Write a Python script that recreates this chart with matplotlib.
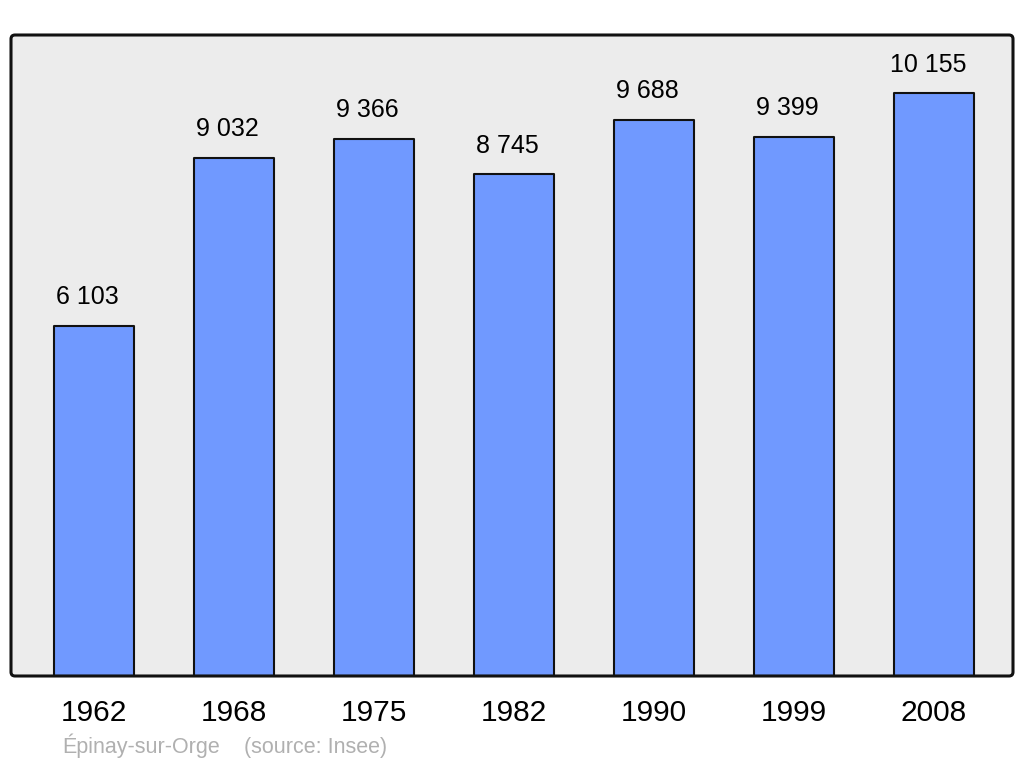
import matplotlib
matplotlib.use("Agg")
import matplotlib.pyplot as plt
from matplotlib.patches import FancyBboxPatch

years = ["1962", "1968", "1975", "1982", "1990", "1999", "2008"]
population = [6103, 9032, 9366, 8745, 9688, 9399, 10155]
value_labels = ["6 103", "9 032", "9 366", "8 745", "9 688", "9 399", "10 155"]
commune = "Épinay-sur-Orge"
source = "(source: Insee)"

plt.rcParams['font.family'] = ['Liberation Sans', 'DejaVu Sans']

W, H = 1024, 765
fig = plt.figure(figsize=(W / 100, H / 100), dpi=100)
fig.patch.set_facecolor("white")
ax = fig.add_axes([11 / W, (H - 676) / H, 1002 / W, 641 / H])
ax.patch.set_visible(False)
for s in ax.spines.values():
    s.set_visible(False)

aspect = (1002 / 641)
bg = FancyBboxPatch((0, 0), 1, 1, boxstyle="round,pad=0,rounding_size=0.004",
                    mutation_aspect=aspect, transform=ax.transAxes,
                    facecolor="#ececec", edgecolor="none", zorder=0, clip_on=False)
ax.add_patch(bg)
frame = FancyBboxPatch((0, 0), 1, 1, boxstyle="round,pad=0,rounding_size=0.004",
                       mutation_aspect=aspect, transform=ax.transAxes,
                       facecolor="none", edgecolor="#111111", linewidth=2.2,
                       zorder=5, clip_on=False)
ax.add_patch(frame)

x = list(range(len(years)))
bars = ax.bar(x, population, width=80 / 140, color="#7099ff",
              edgecolor="#111111", linewidth=1.5, zorder=2)
for b in bars:
    b.set_joinstyle("round")

for xi, v, lab in zip(x, population, value_labels):
    ax.annotate(lab, (xi, v), xytext=(-4.5, 12), textcoords="offset points",
                ha="center", va="bottom", fontsize=18, color="black")

ax.set_xlim(-0.593, 6.564)
ax.set_ylim(0, max(population) * 1.1)
ax.set_yticks([])
ax.set_xticks(x)
ax.set_xticklabels(years, fontsize=21.5)
ax.tick_params(axis="x", length=0, pad=16.5)

fig.text(62 / W, (H - 753) / H, commune, fontsize=15.5, color="#b0b0b0",
         ha="left", va="baseline")
fig.text(244 / W, (H - 753) / H, source, fontsize=15.5, color="#b0b0b0",
         ha="left", va="baseline")

fig.savefig("out.png", dpi=100)
